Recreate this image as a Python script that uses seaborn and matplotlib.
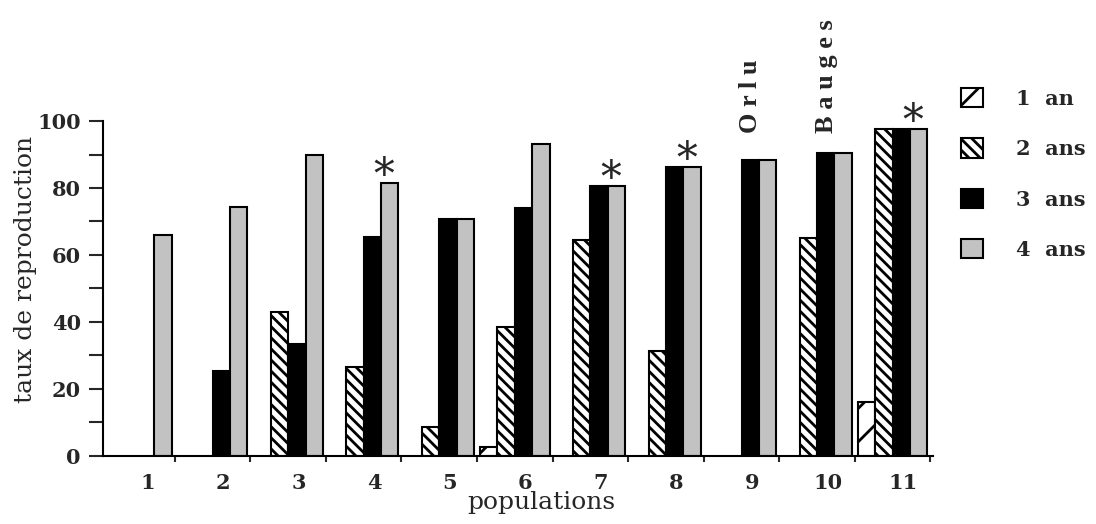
import numpy as np
import pandas as pd
import matplotlib
matplotlib.use("Agg")
import matplotlib.pyplot as plt
from matplotlib.patches import Patch
import seaborn as sns

sns.set_style("white")
plt.rcParams["font.family"] = ["DejaVu Serif"]
plt.rcParams["hatch.linewidth"] = 2.0

# donnees (NaN = pas de barre)
populations = ["1", "2", "3", "4", "5", "6", "7", "8", "9", "10", "11"]
ages = ["1 an", "2 ans", "3 ans", "4 ans"]
an1 = [np.nan, np.nan, np.nan, np.nan, np.nan, 2.7, np.nan, np.nan, np.nan, np.nan, 16]
ans2 = [np.nan, np.nan, 43, 26.5, 8.5, 38.5, 64.5, 31.3, np.nan, 65, 97.6]
ans3 = [np.nan, 25.3, 33.3, 65.3, 70.6, 74, 80.6, 86.3, 88.4, 90.4, 97.6]
ans4 = [66, 74.3, 90, 81.4, 70.6, 93, 80.6, 86.3, 88.4, 90.4, 97.6]
etoiles = ["4", "7", "8", "11"]
noms = {"9": "O r l u", "10": "B a u g e s"}

df = pd.DataFrame({
    "population": populations * 4,
    "age": sum([[a] * len(populations) for a in ages], []),
    "taux": an1 + ans2 + ans3 + ans4,
})

couleurs = {"1 an": "white", "2 ans": "white", "3 ans": "black", "4 ans": "#c2c2c2"}
hachures = {"1 an": "/", "2 ans": "\\\\\\", "3 ans": "", "4 ans": ""}

fig = plt.figure(figsize=(10.96, 5.24), dpi=100)
ax = fig.add_axes([0.094, 0.130, 0.757, 0.639])

sns.barplot(data=df, x="population", y="taux", hue="age", order=populations,
            hue_order=ages, palette=couleurs, edgecolor="black", linewidth=1.5,
            width=0.92, saturation=1, legend=False, ax=ax)

for cont, age in zip(ax.containers, ages):
    for b in cont:
        b.set_hatch(hachures[age])
        b.set_edgecolor("black")

# etoiles au-dessus des populations
for p in etoiles:
    i = populations.index(p)
    ax.text(i + 0.27, ans4[i] - 1.5, "*", ha="center", va="baseline",
            fontsize=30, clip_on=False)

for p, nom in noms.items():
    i = populations.index(p)
    ax.text(i + 0.12, 96.5, nom, rotation=90, ha="center", va="bottom",
            fontsize=19, fontweight="bold", family="Liberation Serif",
            clip_on=False)

ax.set_xlim(-0.45, 10.53)
ax.set_ylim(0, 100)
ax.set_yticks(range(0, 101, 20))
ax.set_yticks(range(10, 100, 20), minor=True)
ax.set_xticks(np.arange(len(populations)) + 0.14, labels=populations)
ax.set_xticks(np.arange(len(populations)) + 0.5, minor=True)
ax.tick_params(axis="y", which="both", direction="out", length=10, width=1.5,
               left=True, labelsize=15, pad=6)
ax.tick_params(axis="x", which="major", length=0, pad=12, labelsize=15)
ax.tick_params(axis="x", which="minor", direction="out", length=4, width=1.5,
               bottom=True)
for lab in ax.get_xticklabels() + ax.get_yticklabels():
    lab.set_fontweight("bold")

sns.despine(ax=ax)
for s in ["left", "bottom"]:
    ax.spines[s].set_linewidth(1.5)
    ax.spines[s].set_color("black")

ax.set_xlabel("populations", fontsize=18)
ax.set_ylabel("taux de reproduction", fontsize=18)
ax.xaxis.set_label_coords(0.528, -0.105)
ax.yaxis.set_label_coords(-0.08, 0.558)

poignees = [Patch(facecolor=couleurs[a], edgecolor="black", hatch=hachures[a],
                  linewidth=1.5) for a in ages]
leg = fig.legend(poignees, ["1  an", "2  ans", "3  ans", "4  ans"],
                 loc="upper left", bbox_to_anchor=(0.877, 0.832), frameon=False,
                 prop={"size": 15, "weight": "bold"}, handlelength=1.05,
                 handleheight=1.05, labelspacing=1.42, handletextpad=1.6,
                 borderpad=0, borderaxespad=0)

fig.savefig("out.png", dpi=100)
